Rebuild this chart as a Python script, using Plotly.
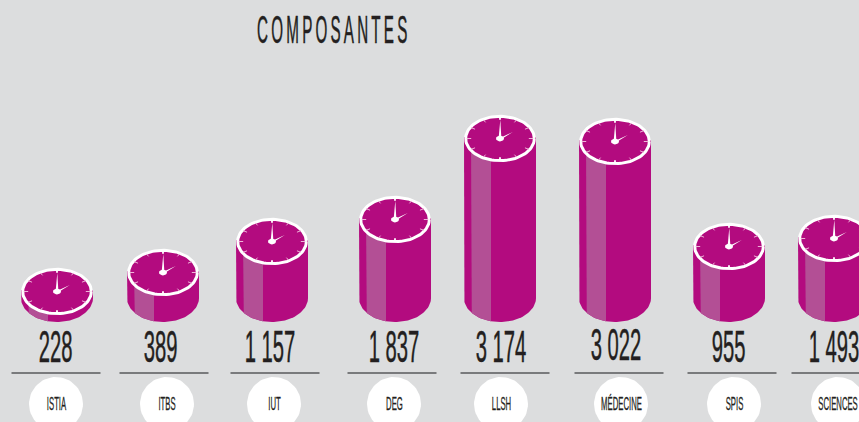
import math
import plotly.graph_objects as go

# ---- data ----
composantes = ["ISTIA", "ITBS", "IUT", "DEG", "LLSH", "MÉDECINE", "SPIS", "SCIENCES"]
value_labels = ["228", "389", "1 157", "1 837", "3 174", "3 022", "955", "1 493"]
# height of each cylinder as drawn, in picture units above the base
drawn_heights = [8, 27, 58, 80, 161, 158, 53, 61]
title_text = "COMPOSANTES"

# ---- layout ----
cyl_x = [57, 163, 272, 395, 500, 615, 729, 834]
num_x = [55, 160, 270, 394, 501, 616, 728, 834]
rule_x = [56, 164, 275, 392, 505, 619, 732, 836]
badge_x = [56, 167, 274, 394, 501, 621, 734, 838]
W, H = 859, 422
BASE = 298
RX, RY = 36, 24
BG, BODY, BAND, INK, RULE = "#dcddde", "#b30b7f", "#b34f95", "#231f20", "#58595b"


def Y(p):
    return BASE - p


def arc(cx, cy, rx, ry, a0, a1, n=60):
    return [(cx + rx * math.cos(math.radians(a0 + (a1 - a0) * i / n)),
             cy + ry * math.sin(math.radians(a0 + (a1 - a0) * i / n))) for i in range(n + 1)]


def poly(fig, pts, color, line=None, lw=0):
    fig.add_trace(go.Scatter(
        x=[p[0] for p in pts], y=[p[1] for p in pts], mode="lines", fill="toself",
        fillcolor=color, line=dict(color=line or color, width=lw),
        hoverinfo="skip", showlegend=False))


FONT = "Liberation Sans"
fig = go.Figure()
for i, name in enumerate(composantes):
    cx, h = cyl_x[i], drawn_heights[i]
    body = [(cx - RX, h)] + arc(cx, 0, RX, RY, 180, 360) + [(cx + RX, h)]
    poly(fig, body, BODY)
    x0, x1 = cx - RX + 7, cx - RX + 27
    a0 = math.degrees(math.acos((x0 - cx) / RX))
    a1 = math.degrees(math.acos((x1 - cx) / RX))
    lower = [(cx + RX * math.cos(math.radians(a0 + (a1 - a0) * k / 20)),
              -RY * math.sin(math.radians(a0 + (a1 - a0) * k / 20))) for k in range(21)]
    poly(fig, [(x0, h)] + lower + [(x1, h)], BAND)
    fx, fy, frx, fry = cx, h - 1.5, 34.3, 22.2
    poly(fig, arc(fx, fy, frx, fry, 0, 360, 90), BODY, "#ffffff", 3)
    tx, ty = [], []
    mx, my = [], []
    for k in range(12):
        a = math.radians(k * 30)
        s, c = math.sin(a), math.cos(a)
        o, n_ = 0.97, 0.84
        seg = ([fx + frx * s * o, fx + frx * s * n_, None], [fy + fry * c * o, fy + fry * c * n_, None])
        if k % 6 == 0:
            mx += seg[0]; my += seg[1]
        else:
            tx += seg[0]; ty += seg[1]
    fig.add_trace(go.Scatter(x=tx, y=ty, mode="lines", line=dict(color="#eeb4d8", width=1),
                             hoverinfo="skip", showlegend=False))
    fig.add_trace(go.Scatter(x=mx, y=my, mode="lines", line=dict(color="#ffffff", width=1.8),
                             hoverinfo="skip", showlegend=False))
    poly(fig, [(fx - 1.4, fy), (fx - 0.3, fy + 18.5), (fx + 0.3, fy + 18.5), (fx + 1.4, fy)], "#ffffff")
    poly(fig, [(fx, fy - 1.4), (fx + 12.5, fy + 6.8), (fx + 12.8, fy + 6.5), (fx + 2, fy + 1.4)], "#ffffff")
    poly(fig, arc(fx, fy, 4, 2.9, 0, 360, 24), "#ffffff")
    fig.add_trace(go.Scatter(x=[rule_x[i] - 44.5, rule_x[i] + 44.5], y=[Y(373), Y(373)], mode="lines",
                             line=dict(color=RULE, width=1.3), hoverinfo="skip", showlegend=False))
    poly(fig, arc(badge_x[i], Y(404), 27, 27, 0, 360, 72), "#ffffff")
    fig.add_annotation(x=num_x[i], y=Y(363 - (2 if name == "MÉDECINE" else 0)), text=value_labels[i], showarrow=False,
                       yanchor="bottom", xanchor="center", borderpad=0, yshift=-9,
                       font=dict(family=FONT, size=44, color=INK))
    fig.add_annotation(x=badge_x[i], y=Y(404), text=name, showarrow=False, xanchor="center", yanchor="middle",
                       font=dict(family=FONT, size=18, color=INK))

fig.add_annotation(x=333.5, y=Y(30), text=title_text, showarrow=False, xanchor="center", yanchor="middle",
                   font=dict(family=FONT, size=38, color=INK))

fig.update_layout(
    width=W, height=H, autosize=False, margin=dict(l=0, r=0, t=0, b=0),
    paper_bgcolor=BG, plot_bgcolor=BG, showlegend=False,
    xaxis=dict(range=[0, W], visible=False, fixedrange=True),
    yaxis=dict(range=[BASE - H, BASE], visible=False, fixedrange=True),
)

post = """
document.body.style.margin='0';
document.documentElement.style.background='#dcddde';
document.querySelectorAll('.annotation-text').forEach(function(t){
  var fs=parseFloat(t.style.fontSize), x=parseFloat(t.getAttribute('x'));
  var s=0.46, w=0.5;
  if(fs<30){s=0.43; w=0.3;}
  else if(fs<40){s=0.40; w=0.5; t.style.letterSpacing='8px';}
  t.style.stroke='#231f20'; t.style.strokeWidth=w+'px';
  t.setAttribute('transform','translate('+x+',0) scale('+s+',1) translate('+(-x)+',0)');
});
"""
fig.write_html("out.html", post_script=post, config={"displayModeBar": False})
